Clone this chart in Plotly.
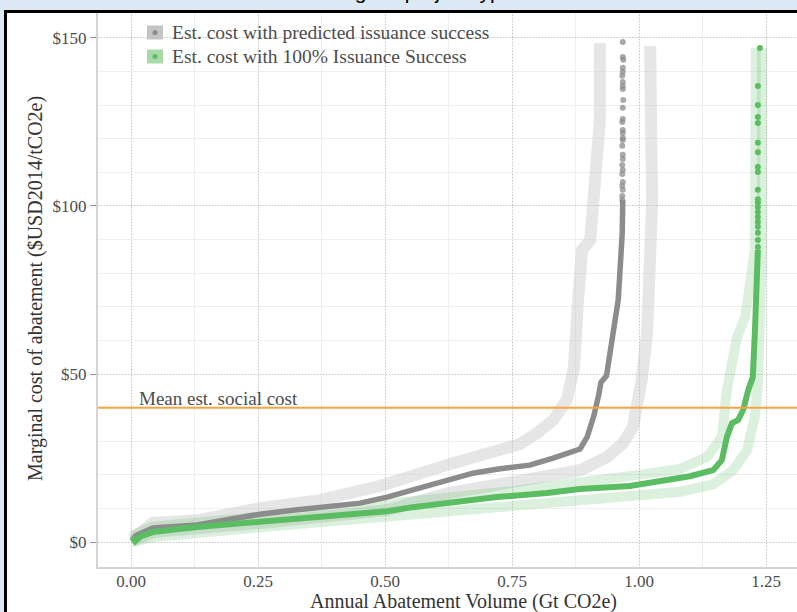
import plotly.graph_objects as go

# ---------------- data ----------------
gray_x = [0.002, 0.010, 0.043, 0.130, 0.195, 0.254, 0.319, 0.386, 0.451, 0.504, 0.555, 0.608,
          0.673, 0.720, 0.785, 0.831, 0.858, 0.884, 0.898, 0.911, 0.921, 0.925, 0.936, 0.943,
          0.953, 0.959, 0.963, 0.967, 0.968]
gray_y = [0.6, 2.0, 4.2, 5.1, 6.8, 8.3, 9.5, 10.4, 11.6, 13.4, 15.5, 17.9,
          20.5, 21.7, 22.9, 25.0, 26.5, 27.7, 31.3, 37.5, 44.0, 47.5, 49.5, 56.3,
          64.0, 72.0, 81.8, 92.0, 101.8]
gray_pts_x = [0.968, 0.968, 0.969, 0.968, 0.968, 0.967, 0.968, 0.968, 0.968, 0.969, 0.968, 0.968,
              0.967, 0.968, 0.968, 0.968, 0.968, 0.967, 0.968, 0.968, 0.967, 0.968, 0.967, 0.968,
              0.967, 0.968, 0.967, 0.967]
gray_pts_y = [148.8, 144.3, 143.5, 141.1, 139.9, 138.7, 136.9, 135.7, 134.8, 131.5, 129.2, 125.9,
              125.0, 122.6, 121.7, 120.2, 119.6, 117.9, 115.2, 114.0, 112.2, 110.7, 109.5, 107.1,
              106.0, 104.8, 103.0, 101.8]
gray_lo_x = [0.002, 0.043, 0.130, 0.254, 0.372, 0.490, 0.634, 0.766, 0.799, 0.831, 0.858, 0.868,
             0.872, 0.880, 0.888, 0.904, 0.909, 0.917, 0.923, 0.923]
gray_lo_y = [0.8, 5.7, 6.5, 10.1, 12.5, 16.7, 23.5, 29.2, 32.4, 36.3, 42.3, 48.2,
             52.0, 72.0, 86.9, 89.9, 101.8, 110.0, 125.6, 148.5]
gray_hi_x = [0.002, 0.043, 0.254, 0.504, 0.622, 0.752, 0.884, 0.937, 0.969, 0.988, 0.998, 1.005,
             1.016, 1.022, 1.026, 1.024, 1.022]
gray_hi_y = [0.3, 3.0, 5.7, 9.5, 14.5, 18.0, 21.4, 25.3, 29.5, 34.2, 42.3, 48.0,
             62.2, 81.8, 101.8, 120.0, 147.6]

green_x = [0.002, 0.008, 0.020, 0.043, 0.130, 0.254, 0.372, 0.504, 0.555, 0.622, 0.720, 0.819,
           0.884, 0.982, 1.067, 1.100, 1.146, 1.163, 1.173, 1.183, 1.195, 1.205, 1.215, 1.224,
           1.228, 1.232, 1.234]
green_y = [1.5, 0.3, 1.8, 3.0, 4.5, 6.0, 7.7, 9.2, 10.4, 11.6, 13.4, 14.6,
           15.8, 16.7, 18.5, 19.6, 21.4, 24.4, 31.3, 35.4, 36.3, 39.3, 45.2, 49.1,
           62.2, 77.0, 86.9]
green_pts_x = [1.238, 1.234, 1.234, 1.234, 1.234, 1.234, 1.234, 1.234, 1.234, 1.234, 1.234, 1.234,
               1.234, 1.234, 1.234, 1.234, 1.234, 1.234, 1.234, 1.234]
green_pts_y = [147.0, 135.7, 130.0, 126.5, 124.7, 118.8, 116.0, 111.6, 110.1, 104.8, 102.0, 101.0,
               99.7, 98.2, 96.7, 95.2, 93.8, 92.0, 89.9, 87.8]
green_lo_x = [0.002, 0.043, 0.254, 0.490, 0.750, 1.000, 1.081, 1.134, 1.163, 1.173, 1.185, 1.193,
              1.209, 1.219, 1.228, 1.230]
green_lo_y = [2.0, 4.6, 7.6, 11.4, 15.2, 20.0, 21.8, 25.3, 31.3, 45.2, 57.1, 61.0,
              67.0, 77.0, 86.9, 147.0]
green_hi_x = [0.002, 0.043, 0.254, 0.490, 0.750, 1.000, 1.081, 1.146, 1.185, 1.213, 1.228, 1.234,
              1.238, 1.242, 1.242]
green_hi_y = [0.0, 1.5, 4.4, 7.4, 10.8, 13.8, 15.0, 17.2, 21.4, 27.4, 37.2, 47.3,
              67.0, 86.9, 147.0]

social_cost = 40
legend_labels = ["Est. cost with predicted issuance success", "Est. cost with 100% Issuance Success"]
x_ticks = [0, 0.25, 0.5, 0.75, 1.0, 1.25]
x_tick_text = ["0.00", "0.25", "0.50", "0.75", "1.00", "1.25"]
y_ticks = [0, 50, 100, 150]
y_tick_text = ["$0", "$50", "$100", "$150"]
x_title = "Annual Abatement Volume (Gt CO2e)"
y_title = "Marginal cost of abatement ($USD2014/tCO2e)"

# ---------------- styles ----------------
SERIF = "Liberation Serif"
GRAY_BAND = "rgba(200,200,200,0.45)"
GRAY_MAIN = "#8c8c8c"
GREEN_BAND = "rgba(92,190,99,0.22)"
GREEN_MAIN = "#5bbd62"
ORANGE = "#f7a440"
BG = "#dde8f5"
L, T, B = 98, 12, 45
PW, PH = 797 - L, 612 - T - B

def px_x(px):
    return (px - L) / PW

def px_y(py):
    return (612 - B - py) / PH

fig = go.Figure()

def band(x, y, color, w):
    fig.add_trace(go.Scatter(x=x, y=y, mode="lines", line=dict(color=color, width=w),
                             hoverinfo="skip", showlegend=False))

band(gray_lo_x, gray_lo_y, GRAY_BAND, 12)
band(gray_hi_x, gray_hi_y, GRAY_BAND, 12)
band(green_lo_x, green_lo_y, GREEN_BAND, 10)
band(green_hi_x, green_hi_y, GREEN_BAND, 10)

fig.add_trace(go.Scatter(x=gray_x, y=gray_y, mode="lines", line=dict(color=GRAY_MAIN, width=5.5),
                         showlegend=False))
fig.add_trace(go.Scatter(x=gray_pts_x, y=gray_pts_y, mode="markers",
                         marker=dict(color=GRAY_MAIN, size=6, opacity=0.75), showlegend=False))
fig.add_trace(go.Scatter(x=green_x, y=green_y, mode="lines", line=dict(color=GREEN_MAIN, width=6),
                         showlegend=False))
fig.add_trace(go.Scatter(x=green_pts_x, y=green_pts_y, mode="markers",
                         marker=dict(color=GREEN_MAIN, size=6), showlegend=False))

# social cost line
fig.add_shape(type="line", xref="paper", x0=0, x1=1, yref="y", y0=social_cost, y1=social_cost,
              line=dict(color=ORANGE, width=2))
fig.add_annotation(x=0.012, y=social_cost, xref="x", yref="y", text="Mean est. social cost",
                   showarrow=False, xanchor="left", yanchor="bottom", yshift=-3,
                   font=dict(family=SERIF, size=19, color="#4d4d4d"))

# frame
fig.add_shape(type="rect", xref="paper", yref="paper", x0=px_x(6), x1=1.02, y0=-0.2, y1=1.0,
              fillcolor="white", line=dict(width=0), layer="below")
fig.add_shape(type="rect", xref="paper", yref="paper", x0=px_x(5.5), x1=1.02, y0=-0.2,
              y1=px_y(11.5), fillcolor="rgba(0,0,0,0)", line=dict(color="black", width=3),
              layer="above")

# legend (manual)
key_colors = ["#c4c4c4", "#a6daa9"]
dot_colors = [GRAY_MAIN, GREEN_MAIN]
rows_py = [32.5, 56.5]
for lab, kc, dc, py in zip(legend_labels, key_colors, dot_colors, rows_py):
    yc = px_y(py)
    fig.add_shape(type="rect", xref="paper", yref="paper",
                  x0=px_x(147), x1=px_x(163), y0=yc - 7 / PH, y1=yc + 7 / PH,
                  fillcolor=kc, line=dict(width=0))
    fig.add_shape(type="circle", xref="paper", yref="paper",
                  x0=px_x(152.5), x1=px_x(157.5), y0=yc - 2.5 / PH, y1=yc + 2.5 / PH,
                  fillcolor=dc, line=dict(width=0))
    fig.add_annotation(x=px_x(170), y=yc, xref="paper", yref="paper", text=lab,
                       showarrow=False, xanchor="left", yanchor="middle",
                       font=dict(family=SERIF, size=19.5, color="#4d4d4d"))

# axis titles
fig.add_annotation(x=px_x(463), y=px_y(601.5), xref="paper", yref="paper", text=x_title,
                   showarrow=False, xanchor="center", yanchor="middle",
                   font=dict(family=SERIF, size=20, color="#333333"))
fig.add_annotation(x=px_x(35), y=px_y(289), xref="paper", yref="paper", text=y_title,
                   showarrow=False, xanchor="center", yanchor="middle", textangle=-90,
                   font=dict(family=SERIF, size=20, color="#333333"))

# clipped title at the very top
fig.add_annotation(x=px_x(526), y=1.0, xref="paper", yref="paper",
                   text="Abatement cost curve across eligible project types",
                   showarrow=False, xanchor="right", yanchor="bottom", yshift=7,
                   font=dict(family="Liberation Sans", size=21, color="black"))

axis_common = dict(showline=True, linecolor="#d4d4d4", linewidth=2, zeroline=False,
                   gridcolor="#c4c4c4", griddash="1px,2px", gridwidth=1, automargin=False,
                   tickfont=dict(family=SERIF, size=17, color="#4d4d4d"))

fig.update_xaxes(range=[-0.065, 1.311], tickvals=x_ticks, ticktext=x_tick_text,
                 ticks="", ticklabelstandoff=-2,
                 minor=dict(dtick=0.125, tick0=0, showgrid=True, gridcolor="#efefef",
                            griddash="solid", gridwidth=1),
                 **axis_common)
fig.update_yaxes(range=[-7.4, 157.7], tickvals=y_ticks, ticktext=y_tick_text,
                 ticks="outside", ticklen=6, tickcolor="#9a9a9a", tickwidth=1,
                 minor=dict(dtick=10, tick0=0, showgrid=True, gridcolor="#efefef",
                            griddash="solid", gridwidth=1),
                 **axis_common)

fig.update_layout(width=797, height=612, margin=dict(l=L, r=0, t=T, b=B, autoexpand=False),
                  paper_bgcolor=BG, plot_bgcolor="white", showlegend=False)

fig.write_html("out.html", config={"displayModeBar": False},
               post_script="document.body.style.margin='0';document.body.style.background='%s';" % BG)
